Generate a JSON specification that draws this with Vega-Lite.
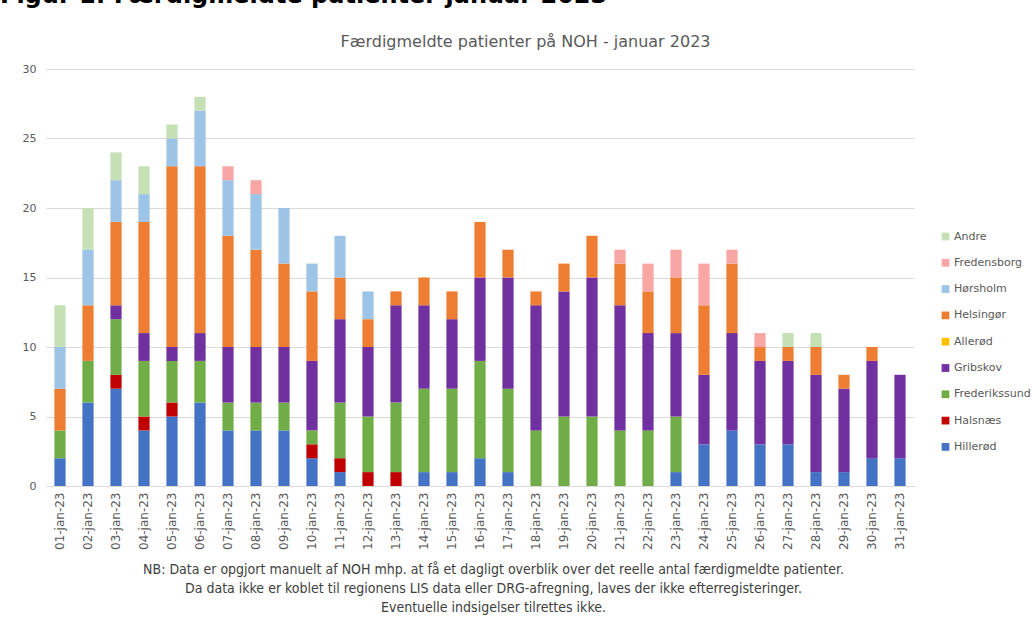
{
  "$schema": "https://vega.github.io/schema/vega-lite/v6.json",
  "autosize": {"type": "none"},
  "width": 868,
  "height": 417,
  "padding": {"left": 46, "top": 69, "right": 118, "bottom": 139},
  "background": "white",
  "title": {
    "text": "Figur 1: Færdigmeldte patienter januar 2023",
    "anchor": "start",
    "frame": "group",
    "dx": -46,
    "offset": 25,
    "font": "DejaVu Sans",
    "fontSize": 24,
    "fontWeight": "bold",
    "color": "#000000"
  },
  "datasets": {
    "kommuner": [
      {"kommune": "Hillerød", "rang": 1},
      {"kommune": "Halsnæs", "rang": 2},
      {"kommune": "Frederikssund", "rang": 3},
      {"kommune": "Gribskov", "rang": 4},
      {"kommune": "Allerød", "rang": 5},
      {"kommune": "Helsingør", "rang": 6},
      {"kommune": "Hørsholm", "rang": 7},
      {"kommune": "Fredensborg", "rang": 8},
      {"kommune": "Andre", "rang": 9}
    ]
  },
  "data": {
    "values": [
      {"dato": "01-jan-23", "kommune": "Hillerød", "antal": 2},
      {"dato": "01-jan-23", "kommune": "Frederikssund", "antal": 2},
      {"dato": "01-jan-23", "kommune": "Helsingør", "antal": 3},
      {"dato": "01-jan-23", "kommune": "Hørsholm", "antal": 3},
      {"dato": "01-jan-23", "kommune": "Andre", "antal": 3},
      {"dato": "02-jan-23", "kommune": "Hillerød", "antal": 6},
      {"dato": "02-jan-23", "kommune": "Frederikssund", "antal": 3},
      {"dato": "02-jan-23", "kommune": "Helsingør", "antal": 4},
      {"dato": "02-jan-23", "kommune": "Hørsholm", "antal": 4},
      {"dato": "02-jan-23", "kommune": "Andre", "antal": 3},
      {"dato": "03-jan-23", "kommune": "Hillerød", "antal": 7},
      {"dato": "03-jan-23", "kommune": "Halsnæs", "antal": 1},
      {"dato": "03-jan-23", "kommune": "Frederikssund", "antal": 4},
      {"dato": "03-jan-23", "kommune": "Gribskov", "antal": 1},
      {"dato": "03-jan-23", "kommune": "Helsingør", "antal": 6},
      {"dato": "03-jan-23", "kommune": "Hørsholm", "antal": 3},
      {"dato": "03-jan-23", "kommune": "Andre", "antal": 2},
      {"dato": "04-jan-23", "kommune": "Hillerød", "antal": 4},
      {"dato": "04-jan-23", "kommune": "Halsnæs", "antal": 1},
      {"dato": "04-jan-23", "kommune": "Frederikssund", "antal": 4},
      {"dato": "04-jan-23", "kommune": "Gribskov", "antal": 2},
      {"dato": "04-jan-23", "kommune": "Helsingør", "antal": 8},
      {"dato": "04-jan-23", "kommune": "Hørsholm", "antal": 2},
      {"dato": "04-jan-23", "kommune": "Andre", "antal": 2},
      {"dato": "05-jan-23", "kommune": "Hillerød", "antal": 5},
      {"dato": "05-jan-23", "kommune": "Halsnæs", "antal": 1},
      {"dato": "05-jan-23", "kommune": "Frederikssund", "antal": 3},
      {"dato": "05-jan-23", "kommune": "Gribskov", "antal": 1},
      {"dato": "05-jan-23", "kommune": "Helsingør", "antal": 13},
      {"dato": "05-jan-23", "kommune": "Hørsholm", "antal": 2},
      {"dato": "05-jan-23", "kommune": "Andre", "antal": 1},
      {"dato": "06-jan-23", "kommune": "Hillerød", "antal": 6},
      {"dato": "06-jan-23", "kommune": "Frederikssund", "antal": 3},
      {"dato": "06-jan-23", "kommune": "Gribskov", "antal": 2},
      {"dato": "06-jan-23", "kommune": "Helsingør", "antal": 12},
      {"dato": "06-jan-23", "kommune": "Hørsholm", "antal": 4},
      {"dato": "06-jan-23", "kommune": "Andre", "antal": 1},
      {"dato": "07-jan-23", "kommune": "Hillerød", "antal": 4},
      {"dato": "07-jan-23", "kommune": "Frederikssund", "antal": 2},
      {"dato": "07-jan-23", "kommune": "Gribskov", "antal": 4},
      {"dato": "07-jan-23", "kommune": "Helsingør", "antal": 8},
      {"dato": "07-jan-23", "kommune": "Hørsholm", "antal": 4},
      {"dato": "07-jan-23", "kommune": "Fredensborg", "antal": 1},
      {"dato": "08-jan-23", "kommune": "Hillerød", "antal": 4},
      {"dato": "08-jan-23", "kommune": "Frederikssund", "antal": 2},
      {"dato": "08-jan-23", "kommune": "Gribskov", "antal": 4},
      {"dato": "08-jan-23", "kommune": "Helsingør", "antal": 7},
      {"dato": "08-jan-23", "kommune": "Hørsholm", "antal": 4},
      {"dato": "08-jan-23", "kommune": "Fredensborg", "antal": 1},
      {"dato": "09-jan-23", "kommune": "Hillerød", "antal": 4},
      {"dato": "09-jan-23", "kommune": "Frederikssund", "antal": 2},
      {"dato": "09-jan-23", "kommune": "Gribskov", "antal": 4},
      {"dato": "09-jan-23", "kommune": "Helsingør", "antal": 6},
      {"dato": "09-jan-23", "kommune": "Hørsholm", "antal": 4},
      {"dato": "10-jan-23", "kommune": "Hillerød", "antal": 2},
      {"dato": "10-jan-23", "kommune": "Halsnæs", "antal": 1},
      {"dato": "10-jan-23", "kommune": "Frederikssund", "antal": 1},
      {"dato": "10-jan-23", "kommune": "Gribskov", "antal": 5},
      {"dato": "10-jan-23", "kommune": "Helsingør", "antal": 5},
      {"dato": "10-jan-23", "kommune": "Hørsholm", "antal": 2},
      {"dato": "11-jan-23", "kommune": "Hillerød", "antal": 1},
      {"dato": "11-jan-23", "kommune": "Halsnæs", "antal": 1},
      {"dato": "11-jan-23", "kommune": "Frederikssund", "antal": 4},
      {"dato": "11-jan-23", "kommune": "Gribskov", "antal": 6},
      {"dato": "11-jan-23", "kommune": "Helsingør", "antal": 3},
      {"dato": "11-jan-23", "kommune": "Hørsholm", "antal": 3},
      {"dato": "12-jan-23", "kommune": "Halsnæs", "antal": 1},
      {"dato": "12-jan-23", "kommune": "Frederikssund", "antal": 4},
      {"dato": "12-jan-23", "kommune": "Gribskov", "antal": 5},
      {"dato": "12-jan-23", "kommune": "Helsingør", "antal": 2},
      {"dato": "12-jan-23", "kommune": "Hørsholm", "antal": 2},
      {"dato": "13-jan-23", "kommune": "Halsnæs", "antal": 1},
      {"dato": "13-jan-23", "kommune": "Frederikssund", "antal": 5},
      {"dato": "13-jan-23", "kommune": "Gribskov", "antal": 7},
      {"dato": "13-jan-23", "kommune": "Helsingør", "antal": 1},
      {"dato": "14-jan-23", "kommune": "Hillerød", "antal": 1},
      {"dato": "14-jan-23", "kommune": "Frederikssund", "antal": 6},
      {"dato": "14-jan-23", "kommune": "Gribskov", "antal": 6},
      {"dato": "14-jan-23", "kommune": "Helsingør", "antal": 2},
      {"dato": "15-jan-23", "kommune": "Hillerød", "antal": 1},
      {"dato": "15-jan-23", "kommune": "Frederikssund", "antal": 6},
      {"dato": "15-jan-23", "kommune": "Gribskov", "antal": 5},
      {"dato": "15-jan-23", "kommune": "Helsingør", "antal": 2},
      {"dato": "16-jan-23", "kommune": "Hillerød", "antal": 2},
      {"dato": "16-jan-23", "kommune": "Frederikssund", "antal": 7},
      {"dato": "16-jan-23", "kommune": "Gribskov", "antal": 6},
      {"dato": "16-jan-23", "kommune": "Helsingør", "antal": 4},
      {"dato": "17-jan-23", "kommune": "Hillerød", "antal": 1},
      {"dato": "17-jan-23", "kommune": "Frederikssund", "antal": 6},
      {"dato": "17-jan-23", "kommune": "Gribskov", "antal": 8},
      {"dato": "17-jan-23", "kommune": "Helsingør", "antal": 2},
      {"dato": "18-jan-23", "kommune": "Frederikssund", "antal": 4},
      {"dato": "18-jan-23", "kommune": "Gribskov", "antal": 9},
      {"dato": "18-jan-23", "kommune": "Helsingør", "antal": 1},
      {"dato": "19-jan-23", "kommune": "Frederikssund", "antal": 5},
      {"dato": "19-jan-23", "kommune": "Gribskov", "antal": 9},
      {"dato": "19-jan-23", "kommune": "Helsingør", "antal": 2},
      {"dato": "20-jan-23", "kommune": "Frederikssund", "antal": 5},
      {"dato": "20-jan-23", "kommune": "Gribskov", "antal": 10},
      {"dato": "20-jan-23", "kommune": "Helsingør", "antal": 3},
      {"dato": "21-jan-23", "kommune": "Frederikssund", "antal": 4},
      {"dato": "21-jan-23", "kommune": "Gribskov", "antal": 9},
      {"dato": "21-jan-23", "kommune": "Helsingør", "antal": 3},
      {"dato": "21-jan-23", "kommune": "Fredensborg", "antal": 1},
      {"dato": "22-jan-23", "kommune": "Frederikssund", "antal": 4},
      {"dato": "22-jan-23", "kommune": "Gribskov", "antal": 7},
      {"dato": "22-jan-23", "kommune": "Helsingør", "antal": 3},
      {"dato": "22-jan-23", "kommune": "Fredensborg", "antal": 2},
      {"dato": "23-jan-23", "kommune": "Hillerød", "antal": 1},
      {"dato": "23-jan-23", "kommune": "Frederikssund", "antal": 4},
      {"dato": "23-jan-23", "kommune": "Gribskov", "antal": 6},
      {"dato": "23-jan-23", "kommune": "Helsingør", "antal": 4},
      {"dato": "23-jan-23", "kommune": "Fredensborg", "antal": 2},
      {"dato": "24-jan-23", "kommune": "Hillerød", "antal": 3},
      {"dato": "24-jan-23", "kommune": "Gribskov", "antal": 5},
      {"dato": "24-jan-23", "kommune": "Helsingør", "antal": 5},
      {"dato": "24-jan-23", "kommune": "Fredensborg", "antal": 3},
      {"dato": "25-jan-23", "kommune": "Hillerød", "antal": 4},
      {"dato": "25-jan-23", "kommune": "Gribskov", "antal": 7},
      {"dato": "25-jan-23", "kommune": "Helsingør", "antal": 5},
      {"dato": "25-jan-23", "kommune": "Fredensborg", "antal": 1},
      {"dato": "26-jan-23", "kommune": "Hillerød", "antal": 3},
      {"dato": "26-jan-23", "kommune": "Gribskov", "antal": 6},
      {"dato": "26-jan-23", "kommune": "Helsingør", "antal": 1},
      {"dato": "26-jan-23", "kommune": "Fredensborg", "antal": 1},
      {"dato": "27-jan-23", "kommune": "Hillerød", "antal": 3},
      {"dato": "27-jan-23", "kommune": "Gribskov", "antal": 6},
      {"dato": "27-jan-23", "kommune": "Helsingør", "antal": 1},
      {"dato": "27-jan-23", "kommune": "Andre", "antal": 1},
      {"dato": "28-jan-23", "kommune": "Hillerød", "antal": 1},
      {"dato": "28-jan-23", "kommune": "Gribskov", "antal": 7},
      {"dato": "28-jan-23", "kommune": "Helsingør", "antal": 2},
      {"dato": "28-jan-23", "kommune": "Andre", "antal": 1},
      {"dato": "29-jan-23", "kommune": "Hillerød", "antal": 1},
      {"dato": "29-jan-23", "kommune": "Gribskov", "antal": 6},
      {"dato": "29-jan-23", "kommune": "Helsingør", "antal": 1},
      {"dato": "30-jan-23", "kommune": "Hillerød", "antal": 2},
      {"dato": "30-jan-23", "kommune": "Gribskov", "antal": 7},
      {"dato": "30-jan-23", "kommune": "Helsingør", "antal": 1},
      {"dato": "31-jan-23", "kommune": "Hillerød", "antal": 2},
      {"dato": "31-jan-23", "kommune": "Gribskov", "antal": 6}
    ]
  },
  "transform": [
    {"lookup": "kommune", "from": {"data": {"name": "kommuner"}, "key": "kommune", "fields": ["rang"]}}
  ],
  "mark": {"type": "bar"},
  "encoding": {
    "x": {
      "field": "dato",
      "type": "nominal",
      "sort": null,
      "scale": {"paddingInner": 0.6, "paddingOuter": 0.3},
      "axis": {
        "labelAngle": -90,
        "labelFont": "DejaVu Sans",
        "labelFontSize": 12,
        "labelColor": "#595959",
        "labelPadding": 6,
        "ticks": false,
        "domainColor": "#d9d9d9",
        "title": [
          "NB: Data er opgjort manuelt af NOH mhp. at få et dagligt overblik over det reelle antal færdigmeldte patienter.",
          "Da data ikke er koblet til regionens LIS data eller DRG-afregning, laves der ikke efterregisteringer.",
          "Eventuelle indsigelser tilrettes ikke."
        ],
        "titleFont": "Liberation Sans Narrow, DejaVu Sans Condensed",
        "titleFontSize": 14,
        "titleFontWeight": "normal",
        "titleColor": "#404040",
        "titleLineHeight": 19,
        "titleX": 447,
        "titleY": 76,
        "titleAlign": "center",
        "titleBaseline": "top"
      }
    },
    "y": {
      "field": "antal",
      "type": "quantitative",
      "aggregate": "sum",
      "stack": "zero",
      "scale": {"domain": [0, 30], "nice": false},
      "axis": {
        "values": [0, 5, 10, 15, 20, 25, 30],
        "domain": false,
        "ticks": false,
        "grid": true,
        "gridColor": "#d9d9d9",
        "labelFont": "DejaVu Sans",
        "labelFontSize": 11,
        "labelColor": "#595959",
        "labelPadding": 10,
        "title": "Færdigmeldte patienter på NOH - januar 2023",
        "titleAngle": 0,
        "titleX": 479,
        "titleY": -23,
        "titleAlign": "center",
        "titleBaseline": "alphabetic",
        "titleFont": "DejaVu Sans",
        "titleFontSize": 16,
        "titleFontWeight": "normal",
        "titleColor": "#595959"
      }
    },
    "color": {
      "field": "kommune",
      "type": "nominal",
      "scale": {
        "domain": ["Hillerød", "Halsnæs", "Frederikssund", "Gribskov", "Allerød", "Helsingør", "Hørsholm", "Fredensborg", "Andre"],
        "range": ["#4472C4", "#C00000", "#70AD47", "#7030A0", "#FFC000", "#ED7D31", "#9DC3E6", "#F8A5A5", "#C5E0B4"]
      },
      "legend": {
        "title": null,
        "values": ["Andre", "Fredensborg", "Hørsholm", "Helsingør", "Allerød", "Gribskov", "Frederikssund", "Halsnæs", "Hillerød"],
        "orient": "none",
        "legendX": 894,
        "legendY": 162,
        "symbolType": "square",
        "symbolSize": 60,
        "symbolStrokeWidth": 0,
        "labelFont": "DejaVu Sans",
        "labelFontSize": 11,
        "labelColor": "#595959",
        "labelOffset": 3,
        "rowPadding": 14.3
      }
    },
    "order": {"field": "rang", "type": "quantitative", "sort": "ascending"}
  },
  "config": {
    "view": {"stroke": null},
    "bar": {"stroke": null}
  }
}
